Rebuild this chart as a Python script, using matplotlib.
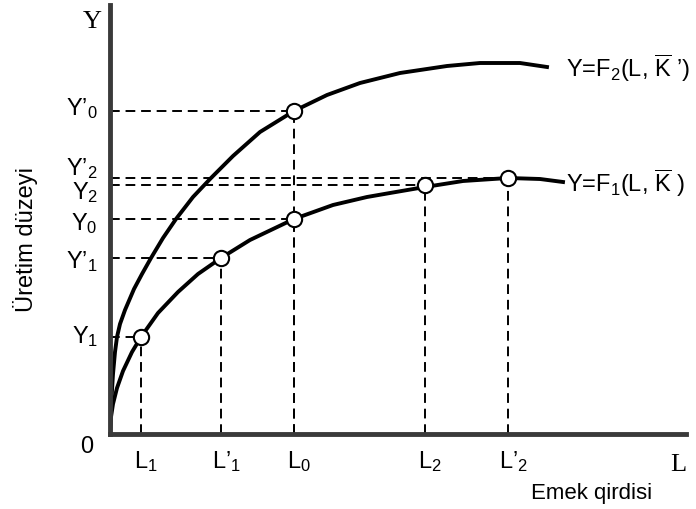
import numpy as np
import matplotlib.pyplot as plt

plt.rcParams['font.family'] = ['Liberation Sans', 'DejaVu Sans']
plt.rcParams['mathtext.fontset'] = 'custom'
plt.rcParams['mathtext.rm'] = 'Liberation Sans'
plt.rcParams['mathtext.it'] = 'Liberation Sans'

# production curves (L = labour, Y = output)
f1_L = [0, 1, 3, 7, 13, 22, 31, 48, 68, 88, 111, 140, 184, 223, 257, 280, 315, 353, 398, 430, 453]
f1_Y = [0, 17, 30, 46, 63, 82, 97, 121, 142, 160, 176, 194, 215, 229, 237, 241, 247, 253, 256, 255, 252]
f2_L = [0, 1, 3, 5, 7, 10, 15, 24, 32, 41, 53, 66, 83, 101, 123, 150, 184, 217, 250, 290, 337,
        370, 410, 437]
f2_Y = [0, 28, 60, 82, 97, 110, 124, 145, 160, 176, 196, 215, 237, 256, 278, 302, 323, 339, 351,
        361, 368, 371, 371, 367]

# marked points on F1: labour level, output level, labels
pt_L = [31, 111, 184, 315, 398]
pt_Y = [97, 176, 215, 249, 256]
pt_Lname = ['L$_1$', 'L’$_1$', 'L$_0$', 'L$_2$', 'L’$_2$']
pt_Yname = ['Y$_1$', 'Y’$_1$', 'Y$_0$', 'Y$_2$', 'Y’$_2$']
# marked point on F2
top_L = 184
top_Y = 323
top_Yname = 'Y’$_0$'

fig = plt.figure(figsize=(6.96, 5.09), dpi=100)
ax = fig.add_axes([110/696, 75/509, 576/696, 429/509])
ax.set_xlim(0, 576)
ax.set_ylim(0, 429)
for s in ['top', 'right']:
    ax.spines[s].set_visible(False)
for s in ['left', 'bottom']:
    ax.spines[s].set_linewidth(3.5)
    ax.spines[s].set_color('#3a3a3a')
ax.set_xticks([])
ax.set_yticks([])

dash = dict(color='black', lw=1.4, ls=(0, (5, 3)), zorder=1)
for L, Y in zip(pt_L, pt_Y):
    ax.plot([0, L], [Y, Y], **dash)
    ax.plot([L, L], [0, Y], **dash)
ax.plot([0, top_L], [top_Y, top_Y], **dash)
ax.plot([top_L, top_L], [0, top_Y], **dash)

ax.plot(f1_L, f1_Y, color='black', lw=2.8, solid_joinstyle='round', zorder=2)
ax.plot(f2_L, f2_Y, color='black', lw=2.8, solid_joinstyle='round', zorder=2)

ax.plot(pt_L + [top_L], pt_Y + [top_Y], 'o', ms=11, mfc='white', mec='black',
        mew=1.5, zorder=3)

# axis labels
y_shift = [0, -4, -5, -8, 9]
for Y, name, dy in zip(pt_Y, pt_Yname, y_shift):
    ax.text(-12, Y + dy, name, ha='right', va='center', fontsize=17, clip_on=False)
ax.text(-12, top_Y + 2, top_Yname, ha='right', va='center', fontsize=17, clip_on=False)

for L, name in zip(pt_L, pt_Lname):
    ax.text(L + 5, -28, name, ha='center', va='center', fontsize=17, clip_on=False)

ax.text(-18, 412, 'Y', ha='center', va='center', fontsize=19, family='Liberation Serif',
        clip_on=False)
ax.text(568, -31, 'L', ha='center', va='center', fontsize=19, family='Liberation Serif',
        clip_on=False)
ax.text(-23, -13, '0', ha='center', va='center', fontsize=17, clip_on=False)

ax.text(482, -59, 'Emek qirdisi', ha='center', va='center', fontsize=16, clip_on=False)
fig.text(26/696, 1 - 240/509, 'Üretim düzeyi', rotation=90, ha='center', va='center',
         fontsize=17)

ax.text(456, 366, r'Y=F$_2$(L, $\overline{\mathrm{K}}$ ’)', ha='left', va='center',
        fontsize=17, clip_on=False)
ax.text(456, 251, r'Y=F$_1$(L, $\overline{\mathrm{K}}$ )', ha='left', va='center',
        fontsize=17, clip_on=False)

fig.savefig('out.png', dpi=100)
